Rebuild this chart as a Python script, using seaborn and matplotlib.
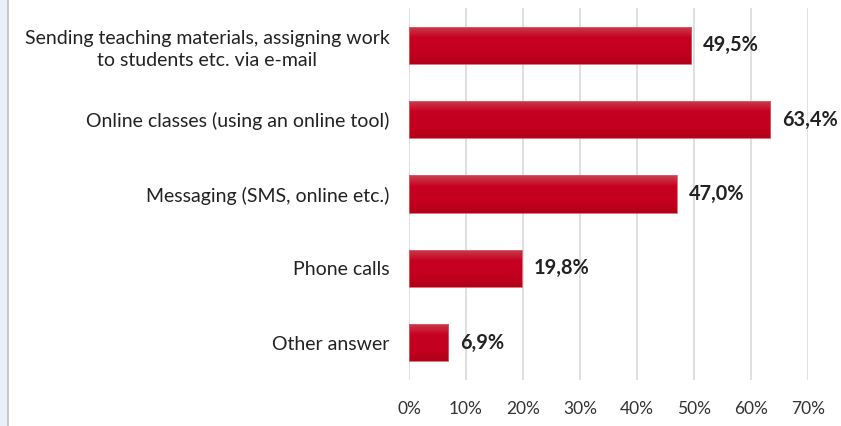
import numpy as np
import pandas as pd
import matplotlib
matplotlib.use("Agg")
import matplotlib.pyplot as plt
from matplotlib.colors import LinearSegmentedColormap
from matplotlib.patches import Rectangle
import seaborn as sns

categories = [
    "Sending teaching materials, assigning work\nto students etc. via e-mail",
    "Online classes (using an online tool)",
    "Messaging (SMS, online etc.)",
    "Phone calls",
    "Other answer",
]
values = [49.5, 63.4, 47.0, 19.8, 6.9]
value_labels = ["49,5%", "63,4%", "47,0%", "19,8%", "6,9%"]
tick_values = [0, 10, 20, 30, 40, 50, 60, 70]
tick_labels = ["0%", "10%", "20%", "30%", "40%", "50%", "60%", "70%"]

df = pd.DataFrame({"category": categories, "value": values})

sns.set_theme(style="white")
plt.rcParams["font.family"] = ["Lato", "DejaVu Sans"]

fig = plt.figure(figsize=(8.41, 4.26), dpi=100)
fig.patch.set_facecolor("white")
ax = fig.add_axes([409 / 841, 1 - 380 / 426, (808 - 409) / 841, (380 - 8) / 426])

sns.barplot(data=df, x="value", y="category", orient="h", width=0.5,
            color="#c4001f", ax=ax, zorder=2)

# vertical red gradient: lighter top edge, darker bottom
grad_cmap = LinearSegmentedColormap.from_list(
    "bar_grad", [(0.0, "#c9404f"), (0.3, "#c70021"), (0.75, "#c2001e"), (1.0, "#b00019")])
grad = np.linspace(0, 1, 64).reshape(-1, 1)
for p in ax.patches:
    x0, y0 = p.get_x(), p.get_y()
    w, h = p.get_width(), p.get_height()
    p.set_facecolor("none")
    p.set_edgecolor("none")
    img = ax.imshow(grad, cmap=grad_cmap, aspect="auto", origin="upper",
                    extent=[x0, x0 + w, y0 + h, y0], zorder=2)
    clip = Rectangle((x0, y0), w, h, transform=ax.transData)
    img.set_clip_path(clip)
    ax.add_patch(Rectangle((x0, y0), w, h, facecolor="none",
                           edgecolor="#d8606c", linewidth=0.6, zorder=3))

for i, (v, lab) in enumerate(zip(values, value_labels)):
    ax.text(v + 2.1, i, lab, va="center", ha="left", fontsize=14.3,
            fontweight="bold", color="#222222", zorder=4)

ax.set_xlim(0, 70)
ax.set_ylim(4.5, -0.5)
ax.set_xticks(tick_values)
ax.set_xticklabels(tick_labels, fontsize=12.5, color="#333333")
ax.set_xlabel("")
ax.set_ylabel("")
ax.tick_params(axis="x", length=0, pad=15)
ax.tick_params(axis="y", length=0, pad=14)
for lab in ax.get_yticklabels():
    lab.set_fontsize(14)
    lab.set_color("#222222")
    lab.set_multialignment("center")
    lab.set_linespacing(1.35)
ax.grid(axis="x", color="#dcdcdc", linewidth=1.3, zorder=0)
ax.set_axisbelow(True)
for s in ax.spines.values():
    s.set_visible(False)

# light frame strip at the left edge
fig.patches.append(Rectangle((0, 0), 7 / 841, 1, transform=fig.transFigure,
                             facecolor="#e8f0fa", edgecolor="none", zorder=0))
fig.patches.append(Rectangle((7 / 841, 0), 1.5 / 841, 1, transform=fig.transFigure,
                             facecolor="#c8c8c8", edgecolor="none", zorder=0))

fig.savefig("out.png", dpi=100, facecolor="white")
